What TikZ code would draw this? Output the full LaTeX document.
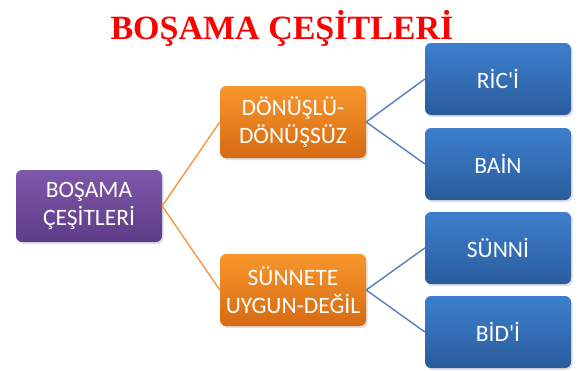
\documentclass[tikz,border=0pt]{standalone}
\usepackage{fontspec}
\setmainfont{Liberation Serif}
\newfontfamily\kutufont{Carlito}
\usepackage{xcolor}
\usetikzlibrary{shadows}
\definecolor{morUst}{HTML}{7E58A9}
\definecolor{morAlt}{HTML}{5E3C88}
\definecolor{turUst}{HTML}{F8972C}
\definecolor{turAlt}{HTML}{D66A12}
\definecolor{maviUst}{HTML}{3D7FCE}
\definecolor{maviAlt}{HTML}{2A5C9C}
\definecolor{turCizgi}{HTML}{F79646}
\definecolor{maviCizgi}{HTML}{4F81BD}

\begin{document}
\begin{tikzpicture}[x=1pt,y=-1pt,
  kutu/.style={rounded corners=6pt, minimum width=146pt, minimum height=72pt, inner sep=1pt,
    text=white, align=center, font=\kutufont\fontsize{23.5}{28}\selectfont,
    drop shadow={shadow xshift=1.5pt, shadow yshift=-2pt, opacity=0.25}},
  mor/.style={kutu, top color=morUst, bottom color=morAlt},
  tur/.style={kutu, top color=turUst, bottom color=turAlt},
  mavi/.style={kutu, top color=maviUst, bottom color=maviAlt},
  tcizgi/.style={turCizgi, line width=1.4pt},
  mcizgi/.style={maviCizgi, line width=1.4pt}]
\useasboundingbox (0,0) rectangle (579,370);

\node[anchor=base, text=red, font=\bfseries\fontsize{34}{38}\selectfont] (baslik) at (282,39) {BOŞAMA ÇEŞİTLERİ};

\node[mor] (ana) at (89,206) {BOŞAMA\\ÇEŞİTLERİ};
\node[tur] (donus) at (293,122) {DÖNÜŞLÜ-\\DÖNÜŞSÜZ};
\node[tur] (sunnet) at (293,290) {SÜNNETE\\UYGUN-DEĞİL};

\foreach \y/\name/\txt in {79/ric/{RİC'İ},164/bain/{BAİN},248/sunni/{SÜNNİ},332/bidi/{BİD'İ}}{
  \node[mavi] (\name) at (498,\y) {\txt};
}

% baglantilar
\draw[tcizgi] (ana.east) -- (donus.west);
\draw[tcizgi] (ana.east) -- (sunnet.west);
\draw[mcizgi] (donus.east) -- (ric.west);
\draw[mcizgi] (donus.east) -- (bain.west);
\draw[mcizgi] (sunnet.east) -- (sunni.west);
\draw[mcizgi] (sunnet.east) -- (bidi.west);
\end{tikzpicture}
\end{document}
